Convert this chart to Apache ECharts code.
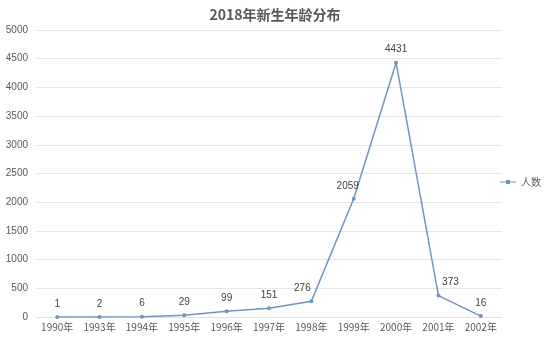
<!DOCTYPE html>
<html><head><meta charset="utf-8">
<script src="https://cdn.jsdelivr.net/npm/echarts@6/dist/echarts.min.js"></script>
<style>html,body{margin:0;padding:0;background:#fff}#c{width:550px;height:341px}</style>
</head><body><div id="c"></div>
<script>
const categories = ['1990年','1993年','1994年','1995年','1996年','1997年','1998年','1999年','2000年','2001年','2002年'];
const values = [1,2,6,29,99,151,276,2059,4431,373,16];
const yTicks = [0,500,1000,1500,2000,2500,3000,3500,4000,4500,5000];
const seriesName = '人数';
const titleText = '2018年新生年龄分布';

const data = values.map((v,i)=>{
  const o = {value:v};
  if (i===6) o.label = {offset:[-9,0]};
  if (i===7) o.label = {offset:[-6,0]};
  if (i===9) o.label = {offset:[12,0]};
  return o;
});

const chart = echarts.init(document.getElementById('c'));
chart.setOption({
  backgroundColor:'#fff',
  animation:false,
  title:{text:titleText,left:270,textAlign:'center',top:3,textStyle:{fontSize:14,fontWeight:'bold',color:'#595959',fontFamily:'Noto Sans CJK SC'}},
  legend:{right:4,top:172,orient:'vertical',itemWidth:16,itemHeight:6,itemGap:4,textStyle:{fontSize:10,color:'#595959',fontFamily:'Noto Sans CJK SC'},data:[{name:seriesName,icon:'path://M0,2.5 L16,2.5 L16,3.5 L0,3.5 Z M6,1 L10,1 L10,5 L6,5 Z'}]},
  grid:{left:36,right:48,top:30,bottom:24},
  xAxis:{type:'category',data:categories,boundaryGap:true,
    axisLine:{show:true,lineStyle:{color:'#e0e0e0'}},axisTick:{show:false},
    axisLabel:{color:'#595959',fontSize:10,margin:5,fontFamily:'Noto Sans CJK SC',interval:0}},
  yAxis:{type:'value',min:yTicks[0],max:yTicks[yTicks.length-1],interval:500,
    axisLine:{show:false},axisTick:{show:false},
    axisLabel:{color:'#595959',fontSize:10,margin:8,fontFamily:'Liberation Sans',formatter:v=>String(v)},
    splitLine:{lineStyle:{color:'#e6e6e6'}}},
  series:[{name:seriesName,type:'line',data:data,
    color:'#7094c2',
    lineStyle:{width:1.5,color:'#7094c2'},
    symbol:'circle',symbolSize:4,
    itemStyle:{color:'#7094c2'},
    label:{show:true,position:'top',distance:6,color:'#404040',fontSize:10,fontFamily:'Liberation Sans'}}]
});
</script></body></html>
